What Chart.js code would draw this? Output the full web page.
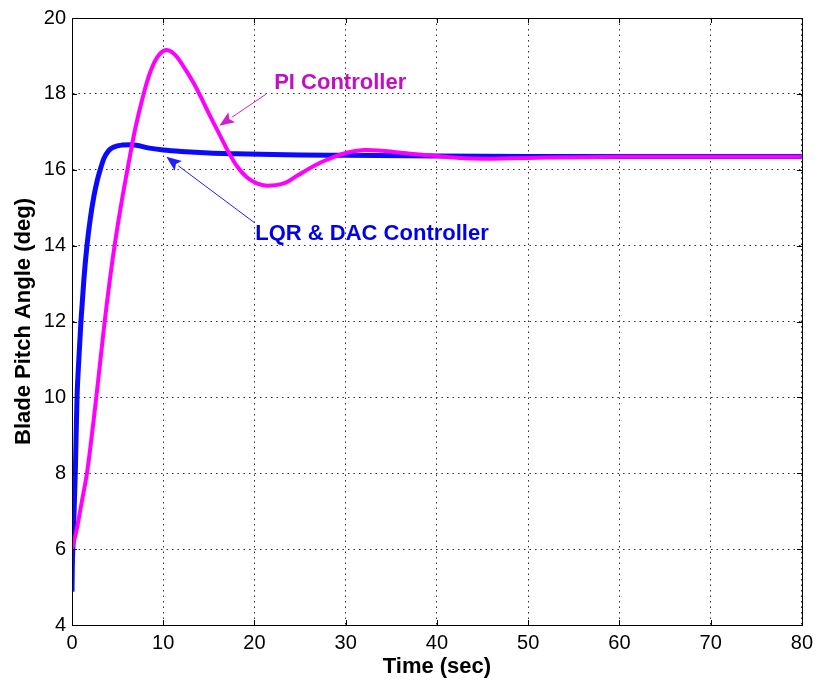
<!DOCTYPE html>
<html>
<head>
<meta charset="utf-8">
<script src="https://cdn.jsdelivr.net/npm/chart.js@4/dist/chart.umd.min.js"></script>
<style>
  html, body { margin: 0; padding: 0; background: #fff; }
  #wrap { width: 819px; height: 683px; }
</style>
</head>
<body>
<div id="wrap"><canvas id="chart" width="819" height="683"></canvas></div>
<script>
// PI controller response (time in sec, blade pitch in deg)
const piTime  = [0, 0.5, 1.0, 1.64, 2.15, 2.66, 3.1, 3.56, 4.15, 4.73, 5.4, 6.15, 6.95, 7.8, 8.54, 9.3, 10.2, 11.2, 12.23, 13.3, 14.2, 15.13, 16.23, 17.14, 18.07, 19.16, 20.26, 21.36, 23.2, 24.66, 26.5, 28, 30, 32, 34, 36, 38, 40, 42.5, 45, 48, 52, 60, 70, 80]
const piAngle = [6, 6.5, 7.15, 8, 8.95, 10, 10.95, 11.95, 13.1, 14.1, 15.1, 16.1, 17.1, 17.95, 18.55, 18.95, 19.15, 19.05, 18.72, 18.3, 17.88, 17.42, 16.9, 16.47, 16.1, 15.8, 15.64, 15.58, 15.64, 15.84, 16.1, 16.27, 16.44, 16.52, 16.5, 16.45, 16.4, 16.36, 16.31, 16.29, 16.3, 16.32, 16.34, 16.34, 16.34]

// LQR & DAC controller response
const lqrTime  = [0, 0.03, 0.12, 0.36, 0.55, 0.75, 0.98, 1.3, 1.64, 2.0, 2.4, 2.75, 3.09, 3.5, 4.0, 4.6, 5.5, 6.5, 8.5, 10, 12, 15, 18, 22, 25, 30, 40, 50, 60, 70, 80]
const lqrAngle = [4.88, 5.5, 6.2, 8, 10, 11, 12, 13.1, 14, 14.7, 15.3, 15.7, 16, 16.3, 16.5, 16.6, 16.65, 16.66, 16.57, 16.52, 16.48, 16.44, 16.42, 16.4, 16.39, 16.38, 16.36, 16.35, 16.35, 16.35, 16.35]

const xTicks = [0, 10, 20, 30, 40, 50, 60, 70, 80]
const yTicks = [4, 6, 8, 10, 12, 14, 16, 18, 20]

// annotation labels and arrows, in data units
const notes = [
  { text: 'PI Controller', color: '#c010c0', arrowColor: '#d020d0', at: [22.16, 18.29], from: [21.25, 17.99], to: [16.15, 17.16] },
  { text: 'LQR & DAC Controller', color: '#0000ee', arrowColor: '#2020ff', at: [20.09, 14.32], from: [19.97, 14.61], to: [10.34, 16.34] },
]

const toPoints = (xs, ys) => xs.map((x, i) => ({ x, y: ys[i] }))

const FONT = "'Liberation Sans', Arial, Helvetica, sans-serif"

const matlabFrame = {
  id: 'matlabFrame',
  afterDatasetsDraw(chart) {
    const { ctx, chartArea: a, scales: { x, y } } = chart
    ctx.save()
    ctx.strokeStyle = '#000'
    ctx.lineWidth = 1
    // inward tick marks on all four sides
    const len = 5
    ctx.beginPath()
    xTicks.forEach(v => {
      const px = Math.round(x.getPixelForValue(v)) + 0.5
      ctx.moveTo(px, a.bottom); ctx.lineTo(px, a.bottom - len)
      ctx.moveTo(px, a.top); ctx.lineTo(px, a.top + len)
    })
    yTicks.forEach(v => {
      const py = Math.round(y.getPixelForValue(v)) + 0.5
      ctx.moveTo(a.left, py); ctx.lineTo(a.left + len, py)
      ctx.moveTo(a.right, py); ctx.lineTo(a.right - len, py)
    })
    ctx.stroke()
    ctx.strokeRect(Math.round(a.left) + 0.5, Math.round(a.top) + 0.5,
      Math.round(a.right - a.left), Math.round(a.bottom - a.top))

    // annotations
    notes.forEach(n => {
      const x0 = x.getPixelForValue(n.from[0]), y0 = y.getPixelForValue(n.from[1])
      const x1 = x.getPixelForValue(n.to[0]), y1 = y.getPixelForValue(n.to[1])
      const ang = Math.atan2(y1 - y0, x1 - x0)
      const head = 15, half = 6
      const bx = x1 - head * Math.cos(ang), by = y1 - head * Math.sin(ang)
      ctx.strokeStyle = n.arrowColor
      ctx.fillStyle = n.arrowColor
      ctx.lineWidth = 1
      ctx.beginPath()
      ctx.moveTo(x0, y0); ctx.lineTo(bx, by)
      ctx.stroke()
      ctx.beginPath()
      ctx.moveTo(x1, y1)
      ctx.lineTo(bx + half * Math.sin(ang), by - half * Math.cos(ang))
      ctx.lineTo(bx + 3 * Math.cos(ang), by + 3 * Math.sin(ang))
      ctx.lineTo(bx - half * Math.sin(ang), by + half * Math.cos(ang))
      ctx.closePath()
      ctx.fill()

      ctx.fillStyle = n.color
      ctx.font = `bold 22px ${FONT}`
      ctx.textAlign = 'left'
      ctx.textBaseline = 'middle'
      ctx.fillText(n.text, x.getPixelForValue(n.at[0]), y.getPixelForValue(n.at[1]))
    })
    ctx.restore()
  }
}

new Chart(document.getElementById('chart'), {
  type: 'line',
  data: {
    datasets: [
      {
        label: 'PI Controller',
        data: toPoints(piTime, piAngle),
        borderColor: '#ff00ff',
        borderWidth: 4,
        pointRadius: 0,
        tension: 0.35,
      },
      {
        label: 'LQR & DAC Controller',
        data: toPoints(lqrTime, lqrAngle),
        borderColor: '#0a0aff',
        borderWidth: 5,
        pointRadius: 0,
        cubicInterpolationMode: 'monotone',
      },
    ]
  },
  options: {
    responsive: false,
    animation: false,
    layout: { padding: { top: 17, right: 14, left: 0, bottom: 0 } },
    plugins: { legend: { display: false }, tooltip: { enabled: false } },
    scales: {
      x: {
        type: 'linear',
        min: 0,
        max: 80,
        afterFit(s) { s.height = 58 },
        afterBuildTicks(s) { s.ticks = xTicks.map(v => ({ value: v })) },
        grid: { color: '#333', lineWidth: 1, drawTicks: false },
        border: { display: true, color: '#000', dash: [1.5, 4] },
        ticks: { color: '#000', padding: 6, font: { family: FONT, size: 20 }, maxRotation: 0 },
        title: {
          display: true,
          text: 'Time (sec)',
          color: '#000',
          font: { family: FONT, size: 22, weight: 'bold' },
          padding: { top: 0, bottom: 3 },
        },
      },
      y: {
        type: 'linear',
        min: 4,
        max: 20,
        afterFit(s) { s.width = 72 },
        afterBuildTicks(s) { s.ticks = yTicks.map(v => ({ value: v })) },
        grid: { color: '#333', lineWidth: 1, drawTicks: false },
        border: { display: true, color: '#000', dash: [1.5, 4] },
        ticks: { color: '#000', padding: 6, font: { family: FONT, size: 20 } },
        title: {
          display: true,
          text: 'Blade Pitch Angle (deg)',
          color: '#000',
          font: { family: FONT, size: 22, weight: 'bold' },
          padding: { top: 11, bottom: 0 },
        },
      },
    },
  },
  plugins: [matlabFrame],
})
</script>
</body>
</html>
